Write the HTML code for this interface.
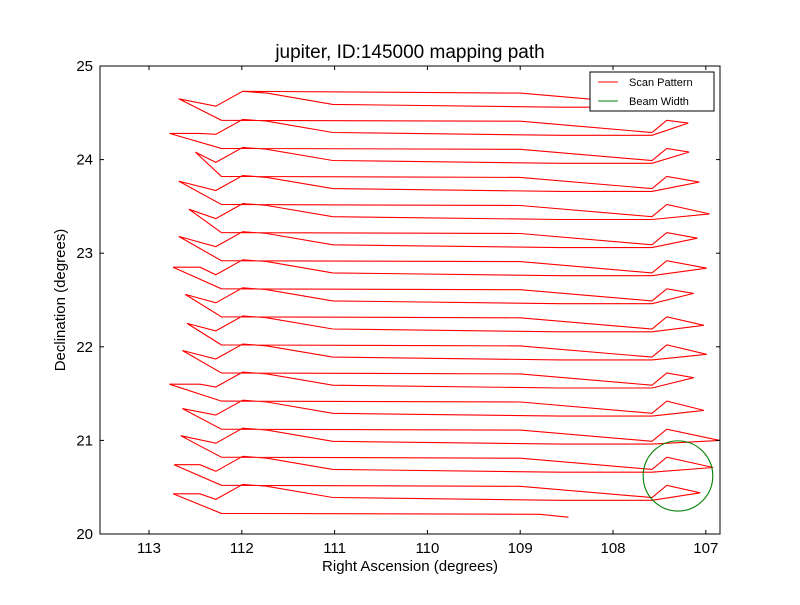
<!DOCTYPE html>
<html><head><meta charset="utf-8"><style>
body{margin:0;background:#fff}
svg text{font-family:"Liberation Sans","DejaVu Sans",sans-serif}
</style></head><body>
<svg id="chart" width="800" height="600" viewBox="0 0 800 600">
<rect width="800" height="600" fill="#fff"/>
<defs><clipPath id="clip"><rect x="100" y="66" width="620" height="468"/></clipPath></defs>
<text x="410" y="58" font-size="19" text-anchor="middle">jupiter, ID:145000 mapping path</text>
<text x="410" y="571" font-size="15" text-anchor="middle">Right Ascension (degrees)</text>
<text x="65" y="300" font-size="15" text-anchor="middle" transform="rotate(-90 65 300)">Declination (degrees)</text>
<g id="plot" clip-path="url(#clip)"></g>
<g id="axes"></g>
<g>
<rect x="590" y="72" width="124" height="39" fill="#fff" stroke="#000" stroke-width="1"/>
<line x1="598" y1="82" x2="618" y2="82" stroke="red"/>
<text x="629" y="86" font-size="11">Scan Pattern</text>
<line x1="598" y1="101" x2="618" y2="101" stroke="green"/>
<text x="629" y="105" font-size="11">Beam Width</text>
</g>
</svg>
<script>
// ---- data ----
const levelDec = [20.22,20.52,20.82,21.12,21.42,21.72,22.02,22.32,22.62,22.92,23.22,23.52,23.82,24.12,24.42,24.72];
const leftRA  = [null,112.74,112.73,112.66,112.64,112.78,112.64,112.59,112.61,112.74,112.68,112.57,112.68,112.50,112.78,112.68];
const leftDec = [null,20.43,20.74,21.05,21.34,21.60,21.96,22.25,22.56,22.85,23.18,23.47,23.77,24.08,24.28,24.65];
const tipRA   = [null,107.06,106.92,106.85,107.02,107.13,106.99,107.02,107.13,106.99,107.09,106.96,107.07,107.18,107.19,107.06];
const tipDec  = [null,20.44,20.71,21.00,21.32,21.67,21.92,22.23,22.57,22.84,23.16,23.42,23.76,24.08,24.39,24.68];
const endRA = 108.48, endDec = 20.18;
const beamRA = 107.30, beamDec = 20.62, beamRadius = 0.375;
const xTicks = [113,112,111,110,109,108,107];
const yTicks = [20,21,22,23,24,25];

// ---- scales ----
const X0=100,X1=720,Y0=66,Y1=534;
const raMax=113.528, raMin=106.847, decMin=20, decMax=25;
const xs = ra => X0 + (raMax-ra)/(raMax-raMin)*(X1-X0);
const ys = d => Y1 - (d-decMin)/(decMax-decMin)*(Y1-Y0);

// ---- path ----
const pts=[];
for(let j=15;j>=1;j--){
  const L=levelDec[j];
  if(j===15) pts.push([111.99,L+0.01]); else pts.push([112.22,L]);
  pts.push([109.0,L-0.01]);
  pts.push([107.58,L-0.13]);
  pts.push([107.42,L]);
  pts.push([tipRA[j],tipDec[j]]);
  pts.push([107.58,L-0.16]);
  pts.push([108.57,L-0.16]);
  pts.push([111.02,L-0.13]);
  pts.push([111.73,L-0.01]);
  pts.push([111.99,L+0.01]);
  pts.push([112.28,L-0.15]);
  if(leftRA[j]>112.7) pts.push([112.45,leftDec[j]]);
  pts.push([leftRA[j],leftDec[j]]);
}
pts.push([112.22,levelDec[0]]);
pts.push([108.79,levelDec[0]-0.01]);
pts.push([endRA,endDec]);

const NS="http://www.w3.org/2000/svg";
const plot=document.getElementById('plot');
const pl=document.createElementNS(NS,'polyline');
pl.setAttribute('points',pts.map(p=>xs(p[0]).toFixed(1)+','+ys(p[1]).toFixed(1)).join(' '));
pl.setAttribute('fill','none');pl.setAttribute('stroke','red');pl.setAttribute('stroke-width','1.1');


plot.appendChild(pl);

const circ=document.createElementNS(NS,'ellipse');
circ.setAttribute('cx',xs(beamRA));circ.setAttribute('cy',ys(beamDec));
circ.setAttribute('rx',Math.abs(xs(beamRA+beamRadius)-xs(beamRA)));
circ.setAttribute('ry',Math.abs(ys(beamDec+beamRadius)-ys(beamDec)));
circ.setAttribute('fill','none');circ.setAttribute('stroke','green');circ.setAttribute('stroke-width','1.1');


plot.appendChild(circ);

// ---- axes ----
const axes=document.getElementById('axes');
const frame=document.createElementNS(NS,'rect');
frame.setAttribute('x',X0);frame.setAttribute('y',Y0);frame.setAttribute('width',X1-X0);frame.setAttribute('height',Y1-Y0);
frame.setAttribute('fill','none');frame.setAttribute('stroke','#000');frame.setAttribute('stroke-width','1');


axes.appendChild(frame);
function line(x1,y1,x2,y2,name){
  const l=document.createElementNS(NS,'line');
  l.setAttribute('x1',x1);l.setAttribute('y1',y1);l.setAttribute('x2',x2);l.setAttribute('y2',y2);
  l.setAttribute('stroke','#000');
  
  
  axes.appendChild(l);
}
function text(x,y,s,anchor,name){
  const t=document.createElementNS(NS,'text');
  t.setAttribute('x',x);t.setAttribute('y',y);t.setAttribute('font-size','15');t.setAttribute('text-anchor',anchor);
  t.textContent=s;
  
  
  axes.appendChild(t);
}
xTicks.forEach(v=>{
  const x=xs(v);
  line(x,Y1,x,Y1-4,'x-tick');line(x,Y0,x,Y0+4,'x-tick-top');
  text(x,553,String(v),'middle','x-tick-label');
});
yTicks.forEach(v=>{
  const y=ys(v);
  line(X0,y,X0+4,y,'y-tick');line(X1,y,X1-4,y,'y-tick-right');
  text(93,y+5,String(v),'end','y-tick-label');
});
</script>
</body></html>
